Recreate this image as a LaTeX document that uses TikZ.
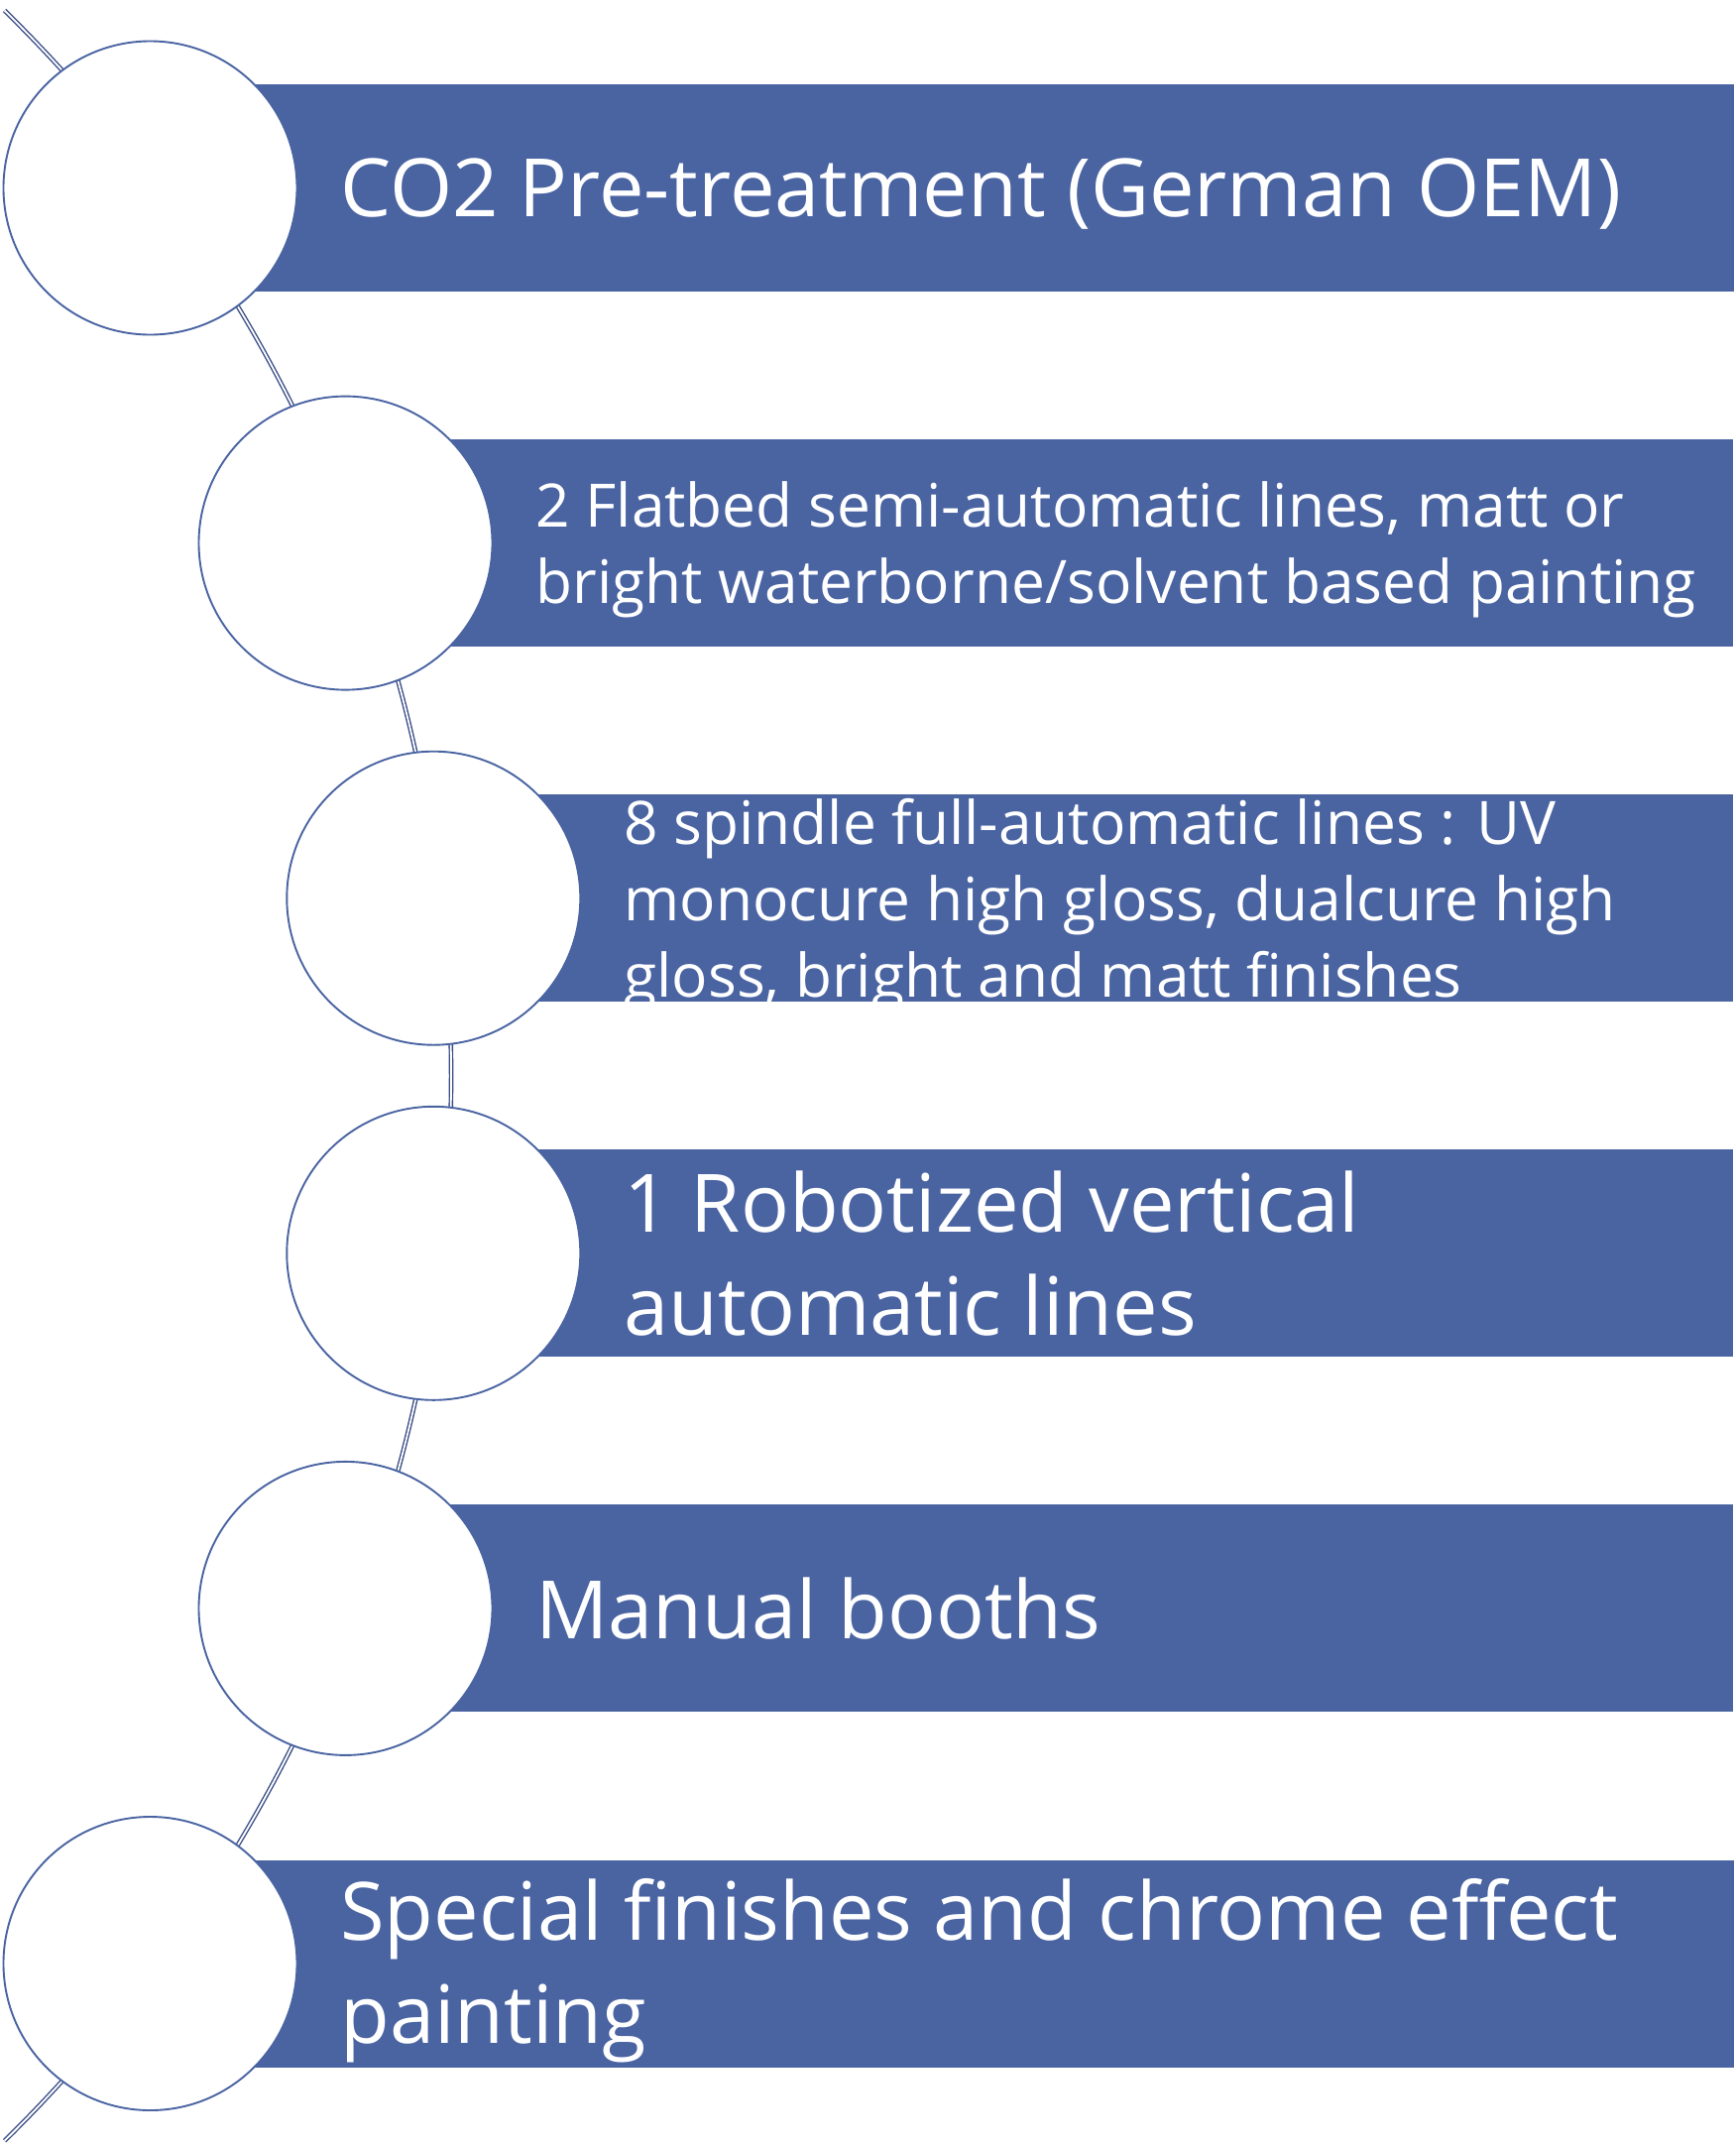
\documentclass[tikz,border=0pt]{standalone}
\usepackage{fontspec}
\newfontfamily\osans{Open Sans}
\definecolor{barblue}{RGB}{74,100,162}
\definecolor{ringblue}{RGB}{74,100,162}
\definecolor{connblue}{RGB}{58,78,134}
\tikzset{
  conn/.style={draw=connblue, line width=0.7pt, double=white, double distance=0.9pt},
  ring/.style={circle, draw=ringblue, line width=0.95pt, fill=white, minimum size=148pt, inner sep=0pt},
  bar/.style={rectangle, fill=barblue, draw=none, minimum height=104.5pt, inner sep=0pt, anchor=west},
  bigtext/.style={text=white, anchor=west, inner sep=0pt, align=left, font=\osans\fontsize{40.6pt}{52pt}\selectfont},
  smalltext/.style={text=white, anchor=west, inner sep=0pt, align=left, font=\osans\fontsize{30.2pt}{38.5pt}\selectfont}
}
\begin{document}
\begin{tikzpicture}[x=0.5pt,y=-0.5pt]
\useasboundingbox (0,0) rectangle (1751,2164);
% connector arc
\coordinate (atop) at (4.6,10.6);
\coordinate (abot) at (4.6,2158.9);
\draw[conn] (atop) arc[start angle=-45.5, end angle=45.5, radius=1506];
% bars
\node[bar, minimum width=798.5pt] (b1) at (151.5,189.5) {};
\node[bar, minimum width=699.75pt] (b2) at (348.5,547.6) {};
\node[bar, minimum width=655.35pt] (b3) at (437.3,905.7) {};
\node[bar, minimum width=655.35pt] (b4) at (437.3,1263.8) {};
\node[bar, minimum width=699.75pt] (b5) at (348.5,1621.9) {};
\node[bar, minimum width=798.5pt] (b6) at (151.5,1980) {};
% circles
\node[ring] (c1) at (151.5,189.5) {};
\node[ring] (c2) at (348.5,547.6) {};
\node[ring] (c3) at (437.3,905.7) {};
\node[ring] (c4) at (437.3,1263.8) {};
\node[ring] (c5) at (348.5,1621.9) {};
\node[ring] (c6) at (151.5,1980) {};
% texts
\node[bigtext, yshift=-3pt] (t1) at (343,189.5) {CO2 Pre-treatment (German OEM)};
\node[smalltext, yshift=-3.5pt] (t2) at (540,547.6) {2 Flatbed semi-automatic lines, matt or\\bright waterborne/solvent based painting};
\node[smalltext, yshift=-3.5pt] (t3) at (629,905.7) {8 spindle full-automatic lines : UV\\monocure high gloss, dualcure high\\gloss, bright and matt finishes};
\node[bigtext] (t4) at (629,1263.8) {1 Robotized vertical\\automatic lines};
\node[bigtext] (t5) at (540,1621.9) {Manual booths};
\node[bigtext, yshift=-3.5pt] (t6) at (343,1980) {Special finishes and chrome effect\\painting};
\end{tikzpicture}
\end{document}
